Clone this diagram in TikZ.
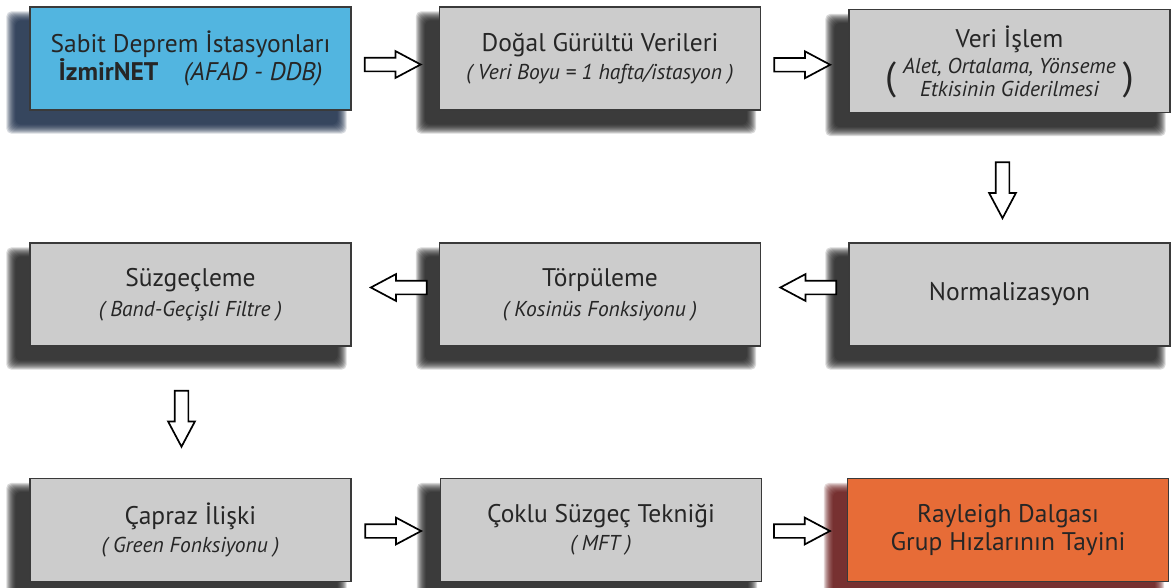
\documentclass[tikz,border=0pt]{standalone}
\usepackage{fontspec}
\setmainfont{PT Sans}
\usetikzlibrary{shapes.arrows,calc,backgrounds}
\definecolor{boxgray}{HTML}{CCCCCC}
\definecolor{boxblue}{HTML}{52B5E0}
\definecolor{boxorange}{HTML}{E76C37}
\definecolor{boxline}{HTML}{3A3A3A}
\definecolor{txt}{HTML}{262626}
\definecolor{shblack}{HTML}{111111}
\definecolor{shnavy}{HTML}{0B1E3C}
\definecolor{shred}{HTML}{5A0505}
\newcommand{\mainf}{\fontsize{25.5}{28}\selectfont}
\newcommand{\subf}{\fontsize{21.5}{24}\selectfont\itshape}
\newcommand{\parf}{\fontsize{39}{42}\selectfont}
\tikzset{
  box/.style={draw=boxline, line width=1.3pt, minimum width=321pt, minimum height=103pt,
    align=center, text=txt, font=\mainf, inner sep=0pt, fill=boxgray},
  rarrow/.style={shape=single arrow, draw=black, fill=white, line width=1.7pt,
    minimum height=56pt, single arrow head extend=6.5pt, single arrow head indent=0pt,
    single arrow tip angle=56, inner xsep=0pt, inner ysep=6pt},
  larrow/.style={rarrow, rotate=180},
  darrow/.style={rarrow, rotate=270},
}
\newcommand{\shadowof}[2]{%
  \foreach \k in {0,...,9}{%
    \fill[#2, opacity=0.16, rounded corners=5pt]
      ($(#1.north west)+(-23+\k,5+\k)$) rectangle ($(#1.south east)+(-5-\k,23-\k)$);
  }%
}
\begin{document}
\begin{tikzpicture}[x=1pt,y=-1pt]
\useasboundingbox (0,0) rectangle (1172,587);
% row 1
\node[box, fill=boxblue] (b1) at (190.5,58.5)
  {Sabit Deprem İstasyonları\\\textbf{İzmirNET}\quad{\itshape (AFAD - DDB)}};
\node[box] (b2) at (600,58.5)
  {Doğal Gürültü Verileri\\{\subf ( Veri Boyu = 1 hafta/istasyon )}};
\node[box] (b3) at (1009.5,61)
  {\rule{0pt}{31pt}Veri İşlem\\[0pt]
   $\vcenter{\hbox{\parf(}}$\;$\vcenter{\hbox{\begin{tabular}{@{}c@{}}{\subf Alet, Ortalama, Yönseme}\\[-5pt]{\subf Etkisinin Giderilmesi}\end{tabular}}}$\;$\vcenter{\hbox{\parf)}}$};
% row 2
\node[box] (b4) at (190.5,294.5)
  {Süzgeçleme\\[2pt]{\subf ( Band-Geçişli Filtre )}};
\node[box] (b5) at (600,294.5)
  {Törpüleme\\[2pt]{\subf ( Kosinüs Fonksiyonu )}};
\node[box] (b6) at (1009.5,294.5) {Normalizasyon};
% row 3
\node[box] (b7) at (190.5,530)
  {Çapraz İlişki\\{\subf ( Green Fonksiyonu )}};
\node[box] (b8) at (601,530)
  {Çoklu Süzgeç Tekniği\\{\subf ( MFT )}};
\node[box, fill=boxorange] (b9) at (1008,530)
  {Rayleigh Dalgası\\Grup Hızlarının Tayini};
% shadows
\begin{scope}[on background layer]
  \shadowof{b1}{shnavy}
  \foreach \n in {b2,b3,b4,b5,b6,b7,b8}{\shadowof{\n}{shblack}}
  \shadowof{b9}{shred}
\end{scope}
% arrows
\path (b1) -- (b2) node[midway, rarrow, xshift=-9pt, yshift=-6pt] (a12) {};
\path (b2) -- (b3) node[midway, rarrow, xshift=-9pt, yshift=-5pt] (a23) {};
\path (b3.south) -- (b6.north) node[midway, darrow, xshift=6pt, yshift=-7pt] (a36) {};
\path (b6) -- (b5) node[midway, larrow, xshift=-10pt, yshift=-7pt] (a65) {};
\path (b5) -- (b4) node[midway, larrow, xshift=-10pt, yshift=-7pt] (a54) {};
\path (b4.south) -- (b7.north) node[midway, darrow, yshift=-9pt] (a47) {};
\path (b7) -- (b8) node[midway, rarrow, xshift=-9pt, yshift=-1pt] (a78) {};
\path (b8) -- (b9) node[midway, rarrow, xshift=-9pt, yshift=-1pt] (a89) {};
\end{tikzpicture}
\end{document}
